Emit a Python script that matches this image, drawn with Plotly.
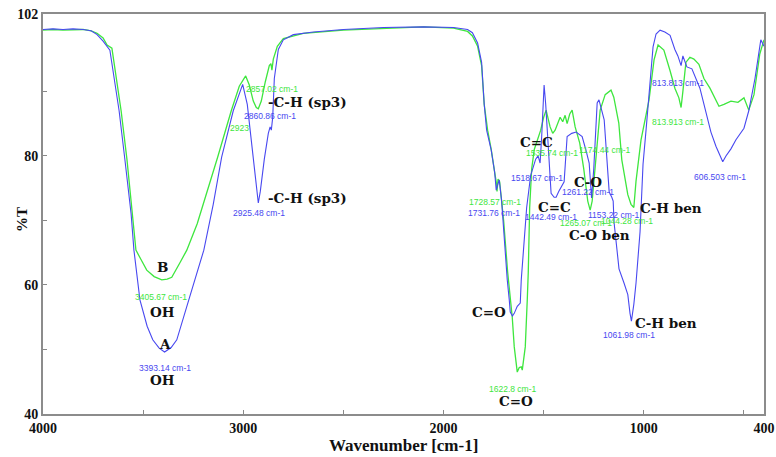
import plotly.graph_objects as go

# ---- Spectrum A (blue) ----
wn_A = [4000, 3950, 3900, 3850, 3800, 3760, 3730, 3700, 3666, 3651, 3620, 3591, 3560, 3546, 3516,
        3480, 3452, 3420, 3393, 3360, 3332, 3272, 3197, 3150, 3108, 3050, 3003, 2980, 2955, 2935,
        2925, 2915, 2895, 2875, 2866, 2860, 2853, 2845, 2825, 2800, 2750, 2650, 2500, 2300, 2100,
        1950, 1880, 1856, 1830, 1810, 1797, 1785, 1770, 1762, 1745, 1737, 1730, 1722, 1710, 1695,
        1682, 1672, 1667, 1656, 1647, 1632, 1617, 1612, 1600, 1585, 1565, 1540, 1528, 1518, 1510,
        1503, 1498, 1490, 1483, 1473, 1463, 1448, 1438, 1425, 1413, 1398, 1383, 1360, 1338, 1308,
        1290, 1273, 1261, 1250, 1233, 1224, 1198, 1180, 1173, 1160, 1153, 1149, 1124, 1099, 1080,
        1069, 1062, 1050, 1039, 1019, 1004, 989, 970, 954, 939, 919, 895, 869, 845, 830, 814,
        805, 785, 760, 720, 690, 665, 640, 615, 606, 590, 565, 540, 500, 476, 445, 416, 400]
t_A = [99.6, 99.7, 99.6, 99.7, 99.6, 99.4, 98.8, 97.8, 96.4, 93.3, 87.0, 79.4, 71.0, 65.4, 57.7,
       53.6, 51.5, 50.2, 49.6, 50.3, 51.5, 57.7, 65.4, 72.5, 79.8, 87.0, 91.1, 88.0, 81.0, 75.0,
       72.7, 74.5, 79.5, 83.5, 84.5, 84.0, 86.0, 92.0, 96.5, 98.0, 98.8, 99.2, 99.6, 99.9, 100.0,
       99.9, 99.6, 99.1, 97.5, 94.5, 88.0, 84.0, 82.0, 80.9, 77.5, 74.7, 75.5, 76.3, 73.0, 66.0,
       60.8, 57.7, 55.8, 55.2, 55.6, 56.7, 57.2, 60.8, 66.0, 72.0, 77.0, 79.5, 80.0, 78.9, 83.0,
       89.0, 91.0, 88.0, 84.5, 79.4, 74.2, 73.6, 73.6, 74.5, 75.2, 76.0, 83.0, 83.5, 83.7, 83.0,
       81.0, 78.9, 73.5, 78.0, 88.2, 88.7, 85.6, 78.0, 74.4, 73.6, 73.0, 69.8, 62.5, 60.3, 58.5,
       55.6, 54.4, 57.0, 60.3, 68.2, 78.7, 84.0, 91.0, 96.9, 98.9, 99.5, 99.2, 98.7, 96.5, 95.5, 94.0,
       95.5, 93.8, 93.5, 90.5, 87.0, 83.7, 81.5, 79.5, 79.1, 80.0, 81.1, 82.5, 84.3, 87.0, 92.0, 98.0, 97.0]

# ---- Spectrum B (green) ----
wn_B = [4000, 3950, 3900, 3850, 3800, 3760, 3730, 3700, 3680, 3656, 3640, 3610, 3581, 3560, 3536,
        3510, 3482, 3445, 3407, 3380, 3357, 3317, 3282, 3230, 3180, 3128, 3060, 3020, 2988, 2970,
        2950, 2935, 2925, 2910, 2890, 2870, 2862, 2857, 2850, 2830, 2800, 2700, 2500, 2300, 2100,
        1950, 1880, 1856, 1830, 1810, 1797, 1780, 1762, 1745, 1737, 1733, 1728, 1720, 1700, 1680,
        1665, 1657, 1647, 1637, 1632, 1622, 1612, 1607, 1592, 1582, 1577, 1570, 1560, 1547, 1535,
        1515, 1500, 1488, 1468, 1455, 1443, 1430, 1418, 1405, 1393, 1383, 1370, 1358, 1343, 1320,
        1300, 1280, 1268, 1258, 1240, 1218, 1193, 1164, 1150, 1125, 1110, 1080, 1064, 1050, 1039,
        1014, 974, 949, 929, 900, 869, 845, 825, 814, 805, 790, 770, 750, 725, 700, 670, 645, 625,
        600, 565, 530, 500, 476, 450, 421, 400]
t_B = [99.5, 99.6, 99.5, 99.6, 99.6, 99.4, 99.0, 98.3, 97.2, 96.7, 93.5, 87.0, 79.5, 73.2, 65.4,
       63.9, 62.3, 61.3, 60.8, 60.9, 61.2, 63.4, 65.4, 69.5, 74.5, 79.8, 87.0, 90.8, 92.4, 91.0,
       88.5, 87.5, 87.3, 88.5, 91.5, 94.0, 94.3, 93.3, 95.0, 97.0, 98.2, 99.0, 99.5, 99.8, 100.0,
       99.8, 99.3, 98.6, 97.0, 94.0, 88.0, 84.0, 81.0, 77.5, 76.0, 74.5, 76.4, 76.0, 70.0, 62.0,
       57.0, 55.0, 50.4, 47.1, 46.5, 47.2, 47.3, 46.8, 50.4, 57.7, 62.0, 72.0, 78.0, 81.0, 82.0,
       84.0, 86.0, 87.1, 84.5, 83.5, 84.0, 85.0, 86.0, 85.3, 86.3, 85.0, 86.5, 87.1, 84.5, 82.0,
       78.0, 73.0, 71.6, 73.0, 80.0, 87.1, 89.5, 90.2, 89.1, 85.1, 79.4, 74.0, 72.5, 72.0, 76.1,
       82.5, 88.7, 94.9, 97.2, 96.4, 93.2, 90.5, 89.0, 87.5, 90.0, 94.5, 95.3, 95.0, 94.2, 92.0, 90.5,
       89.0, 87.7, 88.0, 88.5, 88.3, 89.0, 87.1, 89.5, 95.8, 98.0]

# ---- Peak labels (wavenumber, %T, text) ----
lab_A_x = [3392, 2923, 2868, 1747, 1532, 1463, 1278, 1150, 1074, 830, 620]
lab_A_y = [47.1, 71.1, 86.2, 71.1, 76.6, 70.5, 74.4, 70.8, 52.2, 91.3, 76.7]
lab_A_t = ["3393.14 cm-1", "2925.48 cm-1", "2860.86 cm-1", "1731.76 cm-1", "1518.67 cm-1",
           "1442.49 cm-1", "1261.22 cm-1", "1153.22 cm-1", "1061.98 cm-1", "813.813 cm-1",
           "606.503 cm-1"]
lab_B_x = [3412, 3018, 2858, 1742, 1460, 1193, 1288, 1084, 830, 1652]
lab_B_y = [58.1, 84.3, 90.4, 72.9, 80.4, 80.9, 69.6, 69.9, 85.3, 43.9]
lab_B_t = ["3405.67 cm-1", "2923", "2857.02 cm-1", "1728.57 cm-1", "1535.74 cm-1",
           "1174.44 cm-1", "1265.07 cm-1", "1044.28 cm-1", "813.913 cm-1", "1622.8 cm-1"]

# ---- Group annotations ----
grp_x = [3402, 3402, 3392, 3402, 2888, 2888, 1535, 1448, 1278, 1383, 1029, 1054, 1772, 1637]
grp_y = [62.8, 55.8, 50.8, 45.3, 88.4, 73.5, 82.2, 72.1, 76.0, 67.7, 71.9, 54.1, 55.8, 42.0]
grp_t = ["B", "OH", "A", "OH", "-C-H (sp3)", "-C-H (sp3)", "C=C", "C=C", "C-O", "C-O ben",
         "C-H ben", "C-H ben", "C=O", "C=O"]
grp_anchor = ["center", "center", "center", "center", "left", "left", "center", "center",
              "center", "left", "left", "left", "center", "center"]

x_ticks = [4000, 3500, 3000, 2500, 2000, 1500, 1000, 500, 400]
x_tick_text = ["4000", "", "3000", "", "2000", "", "1000", "", "400"]
y_ticks = [40, 50, 60, 70, 80, 90, 102]
y_tick_text = ["40", "", "60", "", "80", "", "102"]

BLUE = "#4848f0"
GREEN = "#3ee63e"
SERIF = "Liberation Serif"
ANN_FONT = "DejaVu Serif"
INK = "#111111"

fig = go.Figure()
fig.add_trace(go.Scatter(x=wn_B, y=t_B, mode="lines", line=dict(color=GREEN, width=1.3),
                         showlegend=False, hoverinfo="skip"))
fig.add_trace(go.Scatter(x=wn_A, y=t_A, mode="lines", line=dict(color=BLUE, width=1.1),
                         showlegend=False, hoverinfo="skip"))

anns = []
small = dict(family="Liberation Sans Narrow, Liberation Sans", size=8.5)
for x, y, t in zip(lab_A_x, lab_A_y, lab_A_t):
    anns.append(dict(x=x, y=y, text=t, showarrow=False, xref="x", yref="y",
                     font=dict(**small, color=BLUE)))
for x, y, t in zip(lab_B_x, lab_B_y, lab_B_t):
    anns.append(dict(x=x, y=y, text=t, showarrow=False, xref="x", yref="y",
                     font=dict(**small, color=GREEN)))
for x, y, t, a in zip(grp_x, grp_y, grp_t, grp_anchor):
    anns.append(dict(x=x, y=y, text="<b>" + t + "</b>", showarrow=False, xref="x", yref="y",
                     xanchor=a, font=dict(family=ANN_FONT, size=13.5, color=INK)))

# axis titles
anns.append(dict(x=0.5, y=-0.078, xref="paper", yref="paper", showarrow=False,
                 xanchor="center", yanchor="middle", text="<b>Wavenumber [cm-1]</b>",
                 font=dict(family=SERIF, size=17, color=INK)))
anns.append(dict(x=-0.029, y=0.485, xref="paper", yref="paper", showarrow=False,
                 xanchor="center", yanchor="middle", textangle=-90, text="<b>%T</b>",
                 font=dict(family=SERIF, size=15, color=INK)))

fig.update_layout(
    width=776, height=457,
    margin=dict(l=43, r=12, t=14, b=43),
    paper_bgcolor="white", plot_bgcolor="white",
    annotations=anns,
    xaxis=dict(range=[4000, 400], tickvals=x_ticks, ticktext=x_tick_text, automargin=False,
               ticks="inside", ticklen=4, tickcolor="#888888", showgrid=False, zeroline=False,
               showline=True, linecolor="#8c8c8c", linewidth=2, mirror=True,
               tickfont=dict(family=SERIF, size=14, color=INK, weight="bold")),
    yaxis=dict(range=[40, 102], tickvals=y_ticks, ticktext=y_tick_text, automargin=False,
               ticks="inside", ticklen=4, tickcolor="#888888", showgrid=False, zeroline=False,
               showline=True, linecolor="#8c8c8c", linewidth=2, mirror=True,
               tickfont=dict(family=SERIF, size=14, color=INK, weight="bold")),
)

fig.write_html("out.html")
